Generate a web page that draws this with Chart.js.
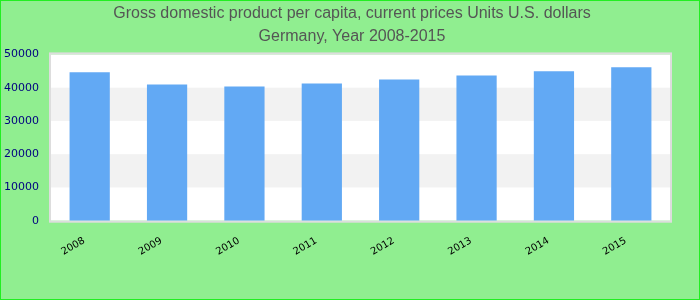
<!DOCTYPE html>
<html>
<head>
<meta charset="utf-8">
<script src="https://cdn.jsdelivr.net/npm/chart.js@4/dist/chart.umd.min.js"></script>
<style>
html,body{margin:0;padding:0;background:#90EE90;}
#wrap{position:relative;width:700px;height:300px;}
</style>
</head>
<body>
<div id="wrap"><canvas id="c" width="700" height="300"></canvas></div>
<script>
const titleLines = ["Gross domestic product per capita, current prices Units U.S. dollars", "Germany, Year 2008-2015"];
const years = ["2008", "2009", "2010", "2011", "2012", "2013", "2014", "2015"];
const gdpPerCapita = [44600, 40950, 40350, 41250, 42450, 43650, 44900, 46100];
const yTicks = [0, 10000, 20000, 30000, 40000, 50000];

const bgPlugin = {
  id: 'bg',
  beforeDraw(chart) {
    const ctx = chart.ctx;
    ctx.save();
    ctx.fillStyle = '#90EE90';
    ctx.fillRect(0, 0, chart.width, chart.height);
    const a = chart.chartArea;
    const y = chart.scales.y;
    ctx.fillStyle = '#ffffff';
    ctx.fillRect(a.left, a.top, a.right - a.left, a.bottom - a.top);
    for (let i = 0; i < yTicks.length - 1; i++) {
      if (i % 2 === 1) {
        const y0 = y.getPixelForValue(yTicks[i]);
        const y1 = y.getPixelForValue(yTicks[i + 1]);
        ctx.fillStyle = '#f2f2f2';
        ctx.fillRect(a.left, y1, a.right - a.left, y0 - y1);
      }
    }
    ctx.strokeStyle = '#dddddd';
    ctx.lineWidth = 2;
    ctx.strokeRect(a.left - 1, a.top - 1, a.right - a.left + 2, a.bottom - a.top + 2);
    ctx.restore();
  },
  afterDraw(chart) {
    const ctx = chart.ctx;
    ctx.save();
    ctx.strokeStyle = '#22ee22';
    ctx.lineWidth = 2;
    ctx.strokeRect(0, 0, chart.width, chart.height);
    ctx.restore();
  }
};

new Chart(document.getElementById('c'), {
  type: 'bar',
  data: {
    labels: years,
    datasets: [{
      data: gdpPerCapita,
      backgroundColor: '#62a9f4',
      borderWidth: 0,
      barPercentage: 0.52,
      categoryPercentage: 1
    }]
  },
  options: {
    responsive: false,
    animation: false,
    devicePixelRatio: 1,
    layout: { padding: { left: 4, right: 0, top: 0, bottom: 31 } },
    plugins: {
      legend: { display: false },
      tooltip: { enabled: false },
      title: {
        display: true,
        text: titleLines,
        color: '#555555',
        font: { family: 'Liberation Sans, Arial, sans-serif', size: 16, weight: 'normal', lineHeight: 1.45 },
        padding: { top: 2, bottom: 6 }
      }
    },
    scales: {
      x: {
        grid: { display: false, drawTicks: false },
        border: { display: false },
        ticks: {
          color: '#000000',
          font: { family: 'DejaVu Sans, Verdana, sans-serif', size: 10 },
          minRotation: 30,
          maxRotation: 30,
          padding: 11,
          callback(v, i) { return years[i] + '  '; }
        }
      },
      y: {
        min: 0,
        max: 50000,
        afterBuildTicks(scale) { scale.ticks = yTicks.map(v => ({ value: v })); },
        afterFit(s) { s.width = 47; },
        grid: { display: false, drawTicks: false },
        border: { display: false },
        ticks: {
          color: '#000080',
          font: { family: 'DejaVu Sans, Verdana, sans-serif', size: 11 },
          padding: 12,
          callback(v) { return String(v); }
        }
      },
      yr: {
        position: 'right',
        display: true,
        grid: { display: false, drawTicks: false },
        border: { display: false },
        ticks: { display: false },
        afterFit(s) { s.width = 30; }
      }
    }
  },
  plugins: [bgPlugin]
});
</script>
</body>
</html>
